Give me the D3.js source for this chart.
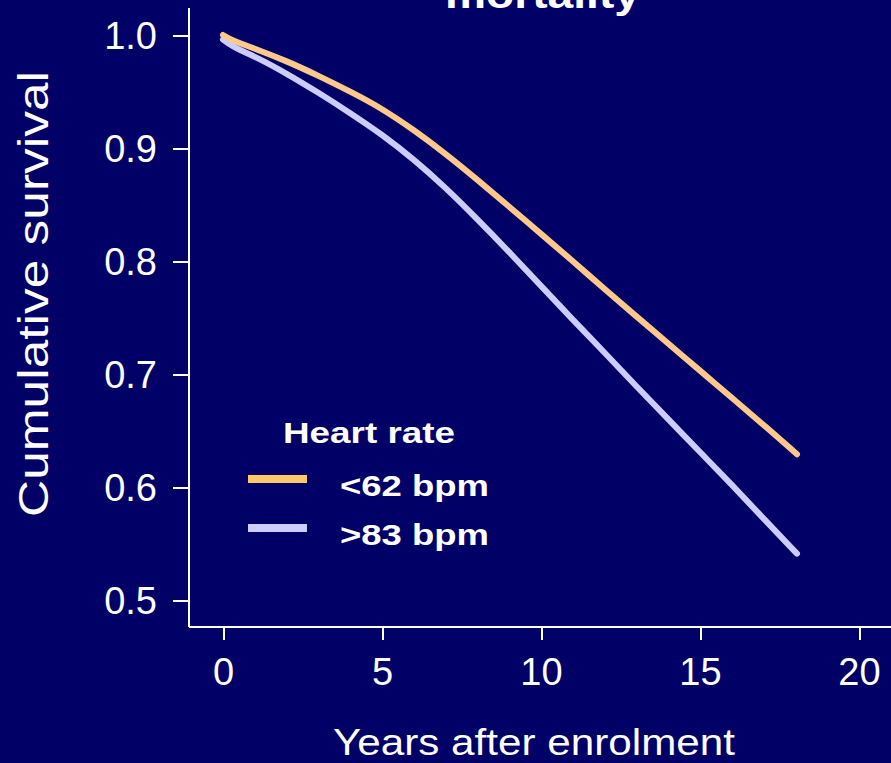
<!DOCTYPE html>
<html>
<head>
	<title>Cumulative survival by heart rate</title>
	<style>
	body {
	  margin: 0;
	  background: #000066;
	  font-family: "Liberation Sans", Arial, sans-serif;
	}
	.axis path,
	.axis line {
	  fill: none;
	  stroke: #fff;
	  stroke-width: 2px;
	  shape-rendering: crispEdges;
	}
	.axis text {
	  fill: #fff;
	  font-family: "Liberation Sans", Arial, sans-serif;
	}
	.curve {
	  fill: none;
	  stroke-width: 6px;
	  stroke-linecap: round;
	  stroke-linejoin: round;
	}
	</style>
	<script src="https://cdnjs.cloudflare.com/ajax/libs/d3/7.8.5/d3.min.js"></script>
</head>
<body>
	<script>
		// years after enrolment at which the curves were read
		var years = [0, 0.25, 0.5, 1, 2, 3, 4, 5, 6, 7, 8, 9, 10, 11, 12, 13, 14, 15, 16, 17, 18.05];
		// cumulative survival, heart rate < 62 bpm
		var low = [1.000, 0.996, 0.993, 0.988, 0.977, 0.964, 0.950, 0.935, 0.916, 0.895, 0.872, 0.848, 0.824, 0.800, 0.775, 0.751, 0.727, 0.703, 0.679, 0.655, 0.629];
		// cumulative survival, heart rate > 83 bpm
		var high = [0.996, 0.991, 0.987, 0.981, 0.966, 0.949, 0.931, 0.912, 0.890, 0.865, 0.837, 0.808, 0.778, 0.748, 0.719, 0.689, 0.660, 0.631, 0.602, 0.572, 0.541];

		var seriesNames = ["<62 bpm", ">83 bpm"];
		var lineColors = ["#ffc98c", "#ccccff"];
		var keyColors = ["#ffc966", "#ccccff"];
		var xTicks = [0, 5, 10, 15, 20];
		var yTicks = [0.5, 0.6, 0.7, 0.8, 0.9, 1.0];

		var width = 891, height = 763;

		var svg = d3.select("body").append("svg")
		    .attr("width", width)
		    .attr("height", height)
		    .style("display", "block")
		    .style("background", "#000066");

		var x = d3.scaleLinear()
		    .domain([0, 20])
		    .range([223, 859]);

		var y = d3.scaleLinear()
		    .domain([0.5, 1.0])
		    .range([600, 35]);

		var axisLeftX = 189, axisBottomY = 627;

		// axes
		var xAxis = svg.append("g")
		    .attr("class", "x axis")
		    .attr("transform", "translate(0," + axisBottomY + ")")
		    .call(d3.axisBottom(x)
		    	.tickValues(xTicks)
		    	.tickSizeOuter(0)
		    	.tickSize(13)
		    	.tickPadding(18)
		    	.tickFormat(d3.format("d")));
		xAxis.select(".domain").attr("d", "M" + axisLeftX + ",0H" + (width + 5));
		xAxis.selectAll("text").style("font-size", "38px");

		var yAxis = svg.append("g")
		    .attr("class", "y axis")
		    .attr("transform", "translate(" + axisLeftX + ",0)")
		    .call(d3.axisLeft(y)
		    	.tickValues(yTicks)
		    	.tickSizeOuter(0)
		    	.tickSize(16)
		    	.tickPadding(16)
		    	.tickFormat(d3.format(".1f")));
		yAxis.select(".domain").attr("d", "M0," + axisBottomY + "V8");
		yAxis.selectAll("text")
		    .style("font-size", "38px")
		    .attr("dy", "0.36em");

		// survival curves
		var line = d3.line()
		    .x(function(d) { return x(d[0]); })
		    .y(function(d) { return y(d[1]); })
		    .curve(d3.curveBasis);

		var series = [low, high];
		for (var i = series.length - 1; i >= 0; i --) {
			var pts = years.map(function(t, j) { return [t, series[i][j]]; });
			svg.append("path")
			    .datum(pts)
			    .attr("class", "curve")
			    .attr("stroke", lineColors[i])
			    .attr("d", line);
		}

		// title (cut off at the top)
		svg.append("text")
		    .attr("x", 445)
		    .attr("y", 8)
		    .attr("fill", "#fff")
		    .style("font-size", "38px")
		    .style("font-weight", "bold")
		    .attr("textLength", 195)
		    .attr("lengthAdjust", "spacingAndGlyphs")
		    .text("mortality");

		// axis titles
		svg.append("text")
		    .attr("transform", "translate(48,294) rotate(-90)")
		    .attr("text-anchor", "middle")
		    .attr("fill", "#fff")
		    .style("font-size", "43px")
		    .attr("textLength", 446)
		    .attr("lengthAdjust", "spacingAndGlyphs")
		    .text("Cumulative survival");

		svg.append("text")
		    .attr("x", 333)
		    .attr("y", 755)
		    .attr("fill", "#fff")
		    .style("font-size", "37px")
		    .attr("textLength", 402)
		    .attr("lengthAdjust", "spacingAndGlyphs")
		    .text("Years after enrolment");

		// legend
		var legend = svg.append("g").attr("class", "legend");
		legend.append("text")
		    .attr("x", 283)
		    .attr("y", 443)
		    .attr("fill", "#fff")
		    .style("font-size", "30px")
		    .style("font-weight", "bold")
		    .attr("textLength", 172)
		    .attr("lengthAdjust", "spacingAndGlyphs")
		    .text("Heart rate");

		var keyY = [479, 528];
		var labelY = [495.5, 545];
		for (var k = 0; k < seriesNames.length; k ++) {
			legend.append("line")
			    .attr("x1", 248)
			    .attr("x2", 307)
			    .attr("y1", keyY[k])
			    .attr("y2", keyY[k])
			    .attr("stroke", keyColors[k])
			    .attr("stroke-width", 8);
			legend.append("text")
			    .attr("x", 340)
			    .attr("y", labelY[k])
			    .attr("fill", "#fff")
			    .style("font-size", "29px")
			    .style("font-weight", "bold")
			    .attr("textLength", 149)
			    .attr("lengthAdjust", "spacingAndGlyphs")
			    .text(seriesNames[k]);
		}
	</script>
</body>
</html>
